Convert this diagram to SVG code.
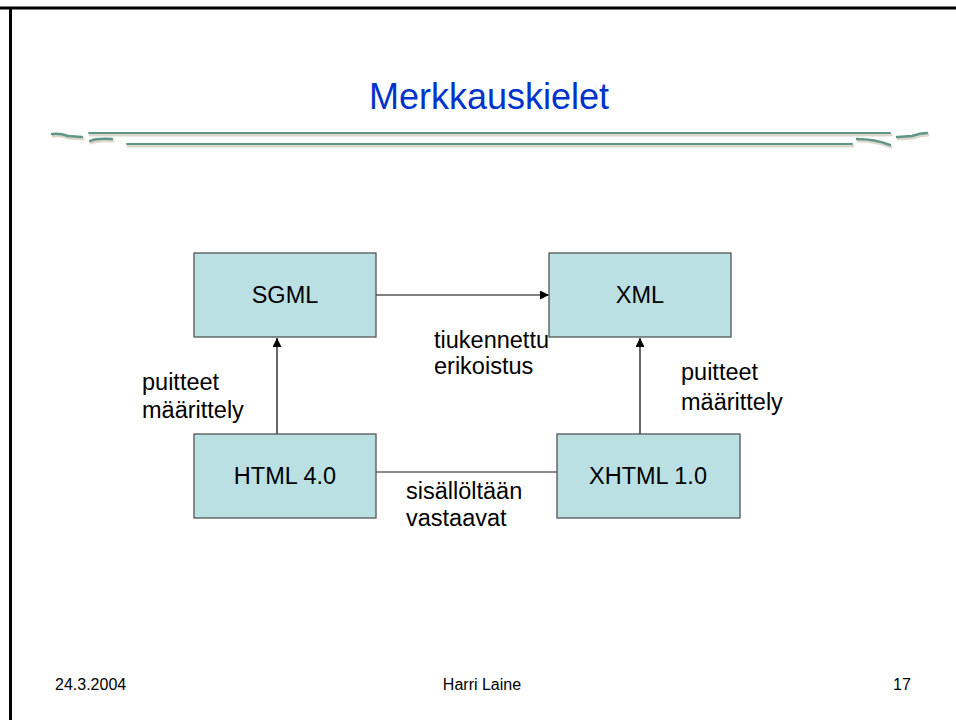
<svg xmlns="http://www.w3.org/2000/svg" width="956" height="720" viewBox="0 0 956 720">
<style>
.box{fill:#BBE0E3;stroke:#555;stroke-width:1.3}
.lbl{font-family:"Liberation Sans",Arial,sans-serif;font-size:23.5px;fill:#000}
.c{text-anchor:middle}
.ft{font-family:"Liberation Sans",Arial,sans-serif;font-size:16px;fill:#000}
.orn{stroke:#5F9687;fill:none;stroke-linecap:round}
.sh{stroke:#DDD6CD;fill:none;stroke-linecap:round}
</style>
<defs>
<marker id="arr" viewBox="0 0 10 10" refX="10" refY="5" markerWidth="9" markerHeight="9" markerUnits="userSpaceOnUse" orient="auto">
<path d="M0,0 L10,5 L0,10 z" fill="#000"/>
</marker>
</defs>
<rect width="956" height="720" fill="#fff"/>
<g id="frame">
<line x1="0" y1="8" x2="956" y2="8" stroke="#000" stroke-width="3"/>
<line x1="10.5" y1="7" x2="10.5" y2="720" stroke="#000" stroke-width="3"/>
</g>
<g id="title">
<text x="489" y="109" font-family="Liberation Sans,Arial,sans-serif" font-size="36" fill="#0033CC" text-anchor="middle">Merkkauskielet</text>
</g>
<g id="ornament">
<g transform="translate(1,2)">
<path class="sh" d="M52,134 Q60,133 68,136 L82,137" stroke-width="3"/>
<line class="sh" x1="89" y1="133" x2="890" y2="133" stroke-width="3"/>
<path class="sh" d="M90,141 Q96,138 112,139" stroke-width="3"/>
<line class="sh" x1="127" y1="144" x2="852" y2="144" stroke-width="3"/>
<path class="sh" d="M857,139 Q875,139 890,145" stroke-width="3"/>
<path class="sh" d="M897,137 L912,136 Q920,133 927,133" stroke-width="3"/>
</g>
<path class="orn" d="M52,134 Q60,133 68,136 L82,137" stroke-width="2.5"/>
<line class="orn" x1="89" y1="133" x2="890" y2="133" stroke-width="2"/>
<path class="orn" d="M90,141 Q96,138 112,139" stroke-width="2.5"/>
<line class="orn" x1="127" y1="144" x2="852" y2="144" stroke-width="2"/>
<path class="orn" d="M857,139 Q875,139 890,145" stroke-width="2.5"/>
<path class="orn" d="M897,137 L912,136 Q920,133 927,133" stroke-width="2.5"/>
</g>
<g id="connectors">
<line x1="376" y1="295" x2="549" y2="295" stroke="#000" stroke-width="1.2" marker-end="url(#arr)"/>
<line x1="277" y1="434" x2="277" y2="338" stroke="#000" stroke-width="1.2" marker-end="url(#arr)"/>
<line x1="640" y1="434" x2="640" y2="338" stroke="#000" stroke-width="1.2" marker-end="url(#arr)"/>
<line x1="376" y1="472" x2="557" y2="472" stroke="#666" stroke-width="1.5"/>
</g>
<g id="sgml"><rect class="box" x="194" y="253" width="182" height="84"/><text class="lbl c" x="285" y="303">SGML</text></g>
<g id="xml"><rect class="box" x="549" y="253" width="182" height="84"/><text class="lbl c" x="640" y="303">XML</text></g>
<g id="html"><rect class="box" x="194" y="434" width="182" height="84"/><text class="lbl c" x="285" y="484">HTML 4.0</text></g>
<g id="xhtml"><rect class="box" x="557" y="434" width="183" height="84"/><text class="lbl c" x="648" y="484">XHTML 1.0</text></g>
<g id="labels">
<text class="lbl" x="434" y="348">tiukennettu</text>
<text class="lbl" x="434" y="374">erikoistus</text>
<text class="lbl" x="142" y="390">puitteet</text>
<text class="lbl" x="142" y="418">määrittely</text>
<text class="lbl" x="681" y="380">puitteet</text>
<text class="lbl" x="681" y="410">määrittely</text>
<text class="lbl" x="406" y="499">sisällöltään</text>
<text class="lbl" x="406" y="526">vastaavat</text>
</g>
<g id="footer">
<text class="ft" x="55" y="690">24.3.2004</text>
<text class="ft" x="482" y="690" text-anchor="middle">Harri Laine</text>
<text class="ft" x="893" y="690">17</text>
</g>
</svg>
